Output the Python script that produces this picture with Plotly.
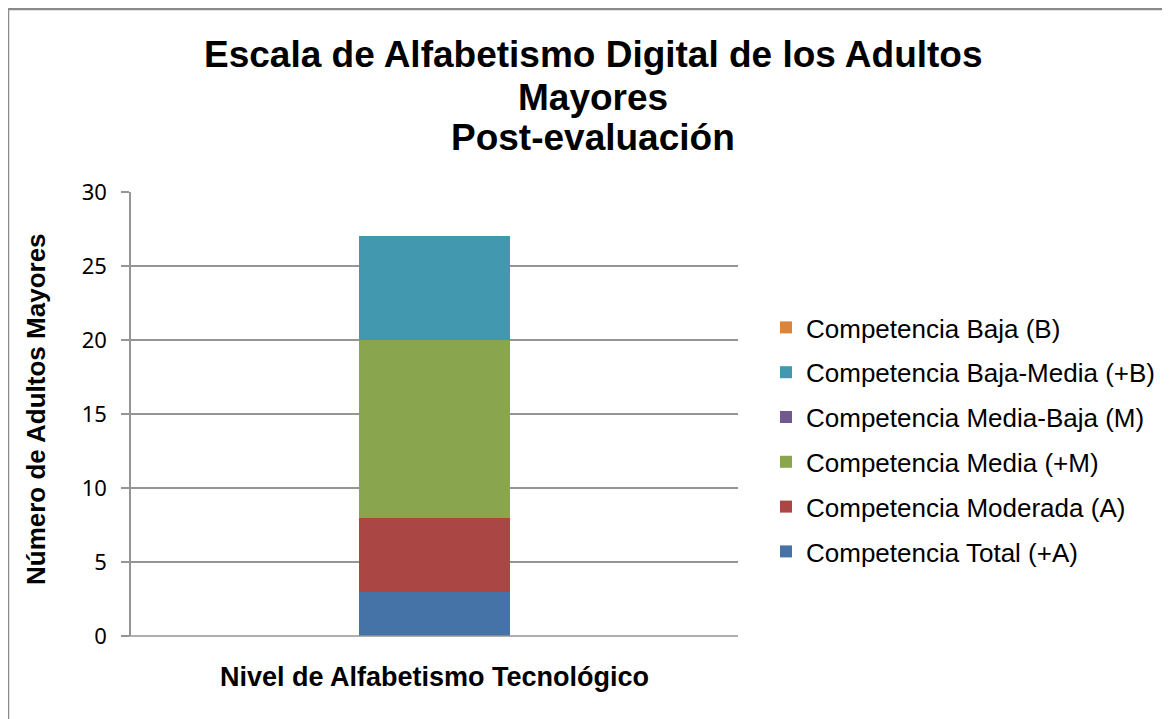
import plotly.graph_objects as go

category = ["Nivel de Alfabetismo Tecnológico"]
series_names = [
    "Competencia Total (+A)",
    "Competencia Moderada (A)",
    "Competencia Media (+M)",
    "Competencia Media-Baja (M)",
    "Competencia Baja-Media (+B)",
    "Competencia Baja (B)",
]
series_values = [3, 5, 12, 0, 7, 0]
series_colors = ["#4572A7", "#AA4643", "#89A54E", "#71588F", "#4198AF", "#DB843D"]
y_ticks = [0, 5, 10, 15, 20, 25, 30]
title_lines = ["Escala de Alfabetismo Digital de los Adultos", "Mayores", "Post-evaluación"]
x_title = "Nivel de Alfabetismo Tecnológico"
y_title = "Número de Adultos Mayores"

W, H = 1170, 719
OFF = 8  # page body margin
L, R, T, B = 131 - OFF, 738 - OFF, 192 - OFF, 636 - OFF


def px(x):
    return (x - OFF - L) / (R - L)


def py(y):
    return (B - (y - OFF)) / (B - T)


fig = go.Figure()
n = len(series_names)
for i, (name, val, col) in enumerate(zip(series_names, series_values, series_colors)):
    fig.add_trace(go.Bar(
        x=category, y=[val], name=name, marker=dict(color=col, line=dict(width=0)),
        width=0.25, legendgroup=name, legendrank=n - i,
    ))

ann = []
for text, yy in zip(title_lines, [55, 97, 138]):
    ann.append(dict(text=f"<b>{text}</b>", xref="paper", yref="paper", x=px(593), y=py(yy),
                    xanchor="center", yanchor="middle", showarrow=False,
                    font=dict(family="Liberation Sans, Arial", size=37, color="black")))
ann.append(dict(text=f"<b>{x_title}</b>", xref="paper", yref="paper", x=px(434), y=py(677),
                xanchor="center", yanchor="middle", showarrow=False,
                font=dict(family="Liberation Sans, Arial", size=27, color="black")))
ann.append(dict(text=f"<b>{y_title}</b>", xref="paper", yref="paper", x=px(36), y=py(409),
                xanchor="center", yanchor="middle", showarrow=False, textangle=-90,
                font=dict(family="Liberation Sans, Arial", size=26, color="black")))

fig.update_layout(
    width=W, height=H,
    barmode="stack",
    plot_bgcolor="white", paper_bgcolor="white",
    margin=dict(l=L, r=W - R, t=T, b=H - B, pad=0),
    showlegend=True,
    legend=dict(
        x=px(766), y=py(304), xanchor="left", yanchor="top",
        traceorder="grouped", tracegroupgap=8,
        font=dict(family="Liberation Sans, Arial", size=26, color="black"),
        bgcolor="rgba(0,0,0,0)", itemwidth=30,
    ),
    xaxis=dict(
        showticklabels=False, showgrid=False, zeroline=False,
        showline=False, ticks="",
    ),
    yaxis=dict(
        range=[0, 30], tickvals=y_ticks, showgrid=True, gridcolor="#959595", gridwidth=1.5,
        zeroline=False, showline=True, linecolor="#959595", linewidth=1.5,
        ticks="outside", ticklen=8, tickcolor="#959595", tickwidth=1.5,
        ticklabelstandoff=10,
        tickfont=dict(family="Noto Sans, Open Sans", size=22, color="black"),
    ),
    annotations=ann,
    shapes=[
        dict(type="path", xref="paper", yref="paper",
             path=f"M {px(1200)} {py(9)} L {px(8)} {py(9)} L {px(8)} {py(760)}",
             line=dict(color="#8a8a8a", width=2.5)),
        dict(type="line", xref="paper", yref="paper", x0=px(122), x1=1, y0=0, y1=0,
             line=dict(color="#959595", width=1.5)),
    ],
)

fig.write_html("out.html")
